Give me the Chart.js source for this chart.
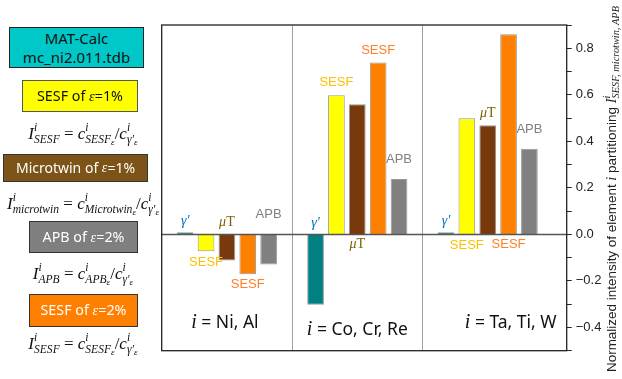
<!DOCTYPE html>
<html>
<head>
<meta charset="utf-8">
<title>Normalized partitioning by defect</title>
<script src="https://cdn.jsdelivr.net/npm/chart.js"></script>
<style>
  body { margin: 0; background: #fff; font-family: "Noto Sans", Arial, sans-serif; }
  #wrap { position: relative; width: 622px; height: 379px; overflow: hidden; }
  #chart { position: absolute; left: 0; top: 0; }
  .box { position: absolute; box-sizing: border-box; display: flex; align-items: center; justify-content: center;
         text-align: center; font-size: 14.3px; line-height: 1.3; }
  .eq { position: absolute; left: 0; width: 166px; text-align: center; font-family: "Liberation Serif", serif;
        font-style: italic; font-size: 17px; line-height: 20px; white-space: nowrap; color: #111; }
  .eq .up { font-style: normal; }
  .ss { display: inline-block; vertical-align: -0.4em; font-size: 0.68em; line-height: 1.05; text-align: left; }
  .ss > span { display: block; }
  .ss sub { font-size: 0.8em; vertical-align: -0.25em; line-height: 0; }
  .ep { font-family: "Liberation Serif", serif; font-style: italic; }
</style>
</head>
<body>
<div id="wrap">
  <canvas id="chart" width="622" height="379"></canvas>

  <div class="box" style="left:9px;top:27px;width:135px;height:41px;background:#00c8c8;border:1px solid #222;color:#111;font-size:15px;line-height:1.25;">MAT-Calc<br>mc_ni2.011.tdb</div>
  <div class="box" style="left:22px;top:80px;width:116px;height:32px;background:#ffff00;border:1px solid #555;color:#111;">SESF of&nbsp;<span class="ep">ε</span>=1%</div>
  <div class="eq" style="top:122px">I<span class="ss"><span>i</span><span>SESF</span></span> <span class="up">=</span> c<span class="ss"><span>i</span><span>SESF<sub>ε</sub></span></span><span class="up">/</span>c<span class="ss"><span>i</span><span>γ′<sub>ε</sub></span></span></div>

  <div class="box" style="left:3px;top:154px;width:145px;height:28px;background:#7d5418;border:1px solid #333;color:#fff;font-size:14px;">Microtwin of&nbsp;<span class="ep">ε</span>=1%</div>
  <div class="eq" style="top:192px">I<span class="ss"><span>i</span><span>microtwin</span></span> <span class="up">=</span> c<span class="ss"><span>i</span><span>Microtwin<sub>ε</sub></span></span><span class="up">/</span>c<span class="ss"><span>i</span><span>γ′<sub>ε</sub></span></span></div>

  <div class="box" style="left:29px;top:221px;width:109px;height:32px;background:#7f7f7f;border:1px solid #333;color:#fff;">APB of&nbsp;<span class="ep">ε</span>=2%</div>
  <div class="eq" style="top:262px">I<span class="ss"><span>i</span><span>APB</span></span> <span class="up">=</span> c<span class="ss"><span>i</span><span>APB<sub>ε</sub></span></span><span class="up">/</span>c<span class="ss"><span>i</span><span>γ′<sub>ε</sub></span></span></div>

  <div class="box" style="left:29px;top:294px;width:109px;height:33px;background:#ff8000;border:1px solid #333;color:#fff;">SESF of&nbsp;<span class="ep">ε</span>=2%</div>
  <div class="eq" style="top:332px">I<span class="ss"><span>i</span><span>SESF</span></span> <span class="up">=</span> c<span class="ss"><span>i</span><span>SESF<sub>ε</sub></span></span><span class="up">/</span>c<span class="ss"><span>i</span><span>γ′<sub>ε</sub></span></span></div>
</div>

<script>
// element groups (one cluster of bars each)
const groups = ['Ni, Al', 'Co, Cr, Re', 'Ta, Ti, W'];

// normalized intensity per defect, one value per group
const gammaPrime = [0.009, -0.303, 0.009];
const sesf1 = [-0.072, 0.598, 0.499];
const microtwin = [-0.112, 0.559, 0.469];
const sesf2 = [-0.171, 0.739, 0.860];
const apb = [-0.129, 0.238, 0.368];

// labelled ticks on the right axis
const yTicks = [-0.4, -0.2, 0.0, 0.2, 0.4, 0.6, 0.8];

const series = [
  { name: "γ′", values: gammaPrime, color: '#008080' },
  { name: 'SESF 1%', values: sesf1, color: '#ffff00' },
  { name: 'μT', values: microtwin, color: '#783a0c' },
  { name: 'SESF 2%', values: sesf2, color: '#ff8000' },
  { name: 'APB', values: apb, color: '#808080' }
];

// text tags over / under each bar
const serif = '"Liberation Serif", "DejaVu Serif", serif';
const sans = '"Liberation Sans", Arial, sans-serif';
const barTags = [
  { parts: [{ t: 'γ′', f: 'italic 14px ' + serif }], color: '#0070c0', side: ['up', 'up', 'up'], gap: 3 },
  { parts: [{ t: 'SESF', f: '13px ' + sans }], color: '#ffc000', side: ['down', 'up', 'down'], gap: 5 },
  { parts: [{ t: 'μ', f: 'italic 14px ' + serif }, { t: 'T', f: '14px ' + serif }], color: '#7f6000', side: ['up', 'down', 'up'], gap: 4 },
  { parts: [{ t: 'SESF', f: '13px ' + sans }], color: '#ff7f27', side: ['down', 'up', 'down'], gap: 4 },
  { parts: [{ t: 'APB', f: '13px ' + sans }], color: '#808080', side: ['up', 'up', 'up'], gap: 12 }
];

function partsWidth(ctx, parts) {
  let w = 0;
  parts.forEach(p => { ctx.font = p.f; if (!p.keep) w += ctx.measureText(p.t).width; });
  return w;
}
function drawParts(ctx, parts, x, y) {
  parts.forEach(p => {
    ctx.font = p.f;
    ctx.fillText(p.t, x, y + (p.dy || 0));
    if (!p.keep) x += ctx.measureText(p.t).width;
  });
}

const decor = {
  id: 'decor',
  afterDatasetsDraw(chart) {
    const { ctx, chartArea: a, scales: { x, y } } = chart;
    ctx.save();
    // dividers between element groups
    ctx.strokeStyle = '#a0a0a0';
    ctx.lineWidth = 1;
    for (let i = 0; i < groups.length - 1; i++) {
      const px = Math.round(x.getPixelForValue(i + 0.5)) + 0.5;
      ctx.beginPath(); ctx.moveTo(px, a.top); ctx.lineTo(px, a.bottom); ctx.stroke();
    }
    // zero line
    const y0 = y.getPixelForValue(0);
    ctx.strokeStyle = '#555';
    ctx.lineWidth = 1.5;
    ctx.beginPath(); ctx.moveTo(a.left, y0); ctx.lineTo(a.right, y0); ctx.stroke();
    // frame
    ctx.strokeStyle = '#222';
    ctx.lineWidth = 1.3;
    ctx.strokeRect(a.left, a.top, a.right - a.left, a.bottom - a.top);

    // bar tags
    ctx.textBaseline = 'alphabetic';
    barTags.forEach((tag, d) => {
      const meta = chart.getDatasetMeta(d);
      meta.data.forEach((bar, i) => {
        const w = partsWidth(ctx, tag.parts);
        ctx.fillStyle = tag.color;
        const top = Math.min(bar.y, bar.base), bot = Math.max(bar.y, bar.base);
        const ty = tag.side[i] === 'up' ? top - tag.gap - 4 : bot + tag.gap + 10;
        drawParts(ctx, tag.parts, bar.x - w / 2, ty);
      });
    });

    // group captions "i = ..."
    const shift = [-2, 0, 23], lift = [-23, -15.5, -23];
    groups.forEach((g, i) => {
      const parts = [{ t: 'i', f: 'italic 20px ' + serif }, { t: ' = ' + g, f: '17.5px "Noto Sans", Arial, sans-serif' }];
      const w = partsWidth(ctx, parts);
      ctx.fillStyle = '#111';
      drawParts(ctx, parts, x.getPixelForValue(i) + shift[i] - w / 2, a.bottom + lift[i]);
    });

    // rotated axis title on the right, stretched along its length
    const tparts = [
      { t: 'Normalized intensity of element ', f: '13px ' + sans },
      { t: 'i', f: 'italic 14px ' + serif },
      { t: ' partitioning ', f: '13px ' + sans },
      { t: 'I', f: 'italic 14px ' + serif },
      { t: 'i', f: 'italic 10px ' + serif, dy: -6, keep: true },
      { t: 'SESF, microtwin, APB', f: 'italic 10px ' + serif, dy: 3 }
    ];
    const tw = partsWidth(ctx, tparts);
    const stretch = 366 / tw;
    ctx.translate(616, 189);
    ctx.rotate(-Math.PI / 2);
    ctx.scale(stretch, 1);
    ctx.fillStyle = '#222';
    drawParts(ctx, tparts, -tw / 2, 0);
    ctx.restore();
  }
};

new Chart(document.getElementById('chart'), {
  type: 'bar',
  data: {
    datasets: series.map(s => ({
      label: s.name,
      data: s.values.map((v, i) => ({ x: i, y: v })),
      backgroundColor: s.color,
      borderColor: 'rgba(70,70,70,0.55)',
      borderWidth: 1,
      categoryPercentage: 0.8,
      barPercentage: 0.8
    }))
  },
  options: {
    responsive: false,
    animation: false,
    devicePixelRatio: 1,
    layout: { padding: { left: 161.7, top: 25, bottom: 28.3, right: 0 } },
    plugins: { legend: { display: false }, tooltip: { enabled: false } },
    scales: {
      x: {
        type: 'linear', min: -0.5, max: 2.606, display: false, offset: false,
        grid: { offset: false },
        afterBuildTicks: s => { s.ticks = groups.map((g, i) => ({ value: i })); }
      },
      y: {
        position: 'right',
        min: -0.5,
        max: 0.9,
        afterFit: s => { s.width = 55.3; },
        border: { display: false },
        grid: { drawOnChartArea: false, tickLength: 5, color: '#222' },
        ticks: {
          stepSize: 0.1,
          autoSkip: false,
          padding: 4,
          color: '#222',
          font: { family: 'Liberation Sans', size: 13 },
          callback: v => {
            const r = Math.round(v * 10) / 10;
            if (!yTicks.some(t => Math.abs(t - r) < 1e-6)) return '';
            return (r < 0 ? '−' : '') + Math.abs(r).toFixed(1);
          }
        }
      }
    }
  },
  plugins: [decor]
});
</script>
</body>
</html>
